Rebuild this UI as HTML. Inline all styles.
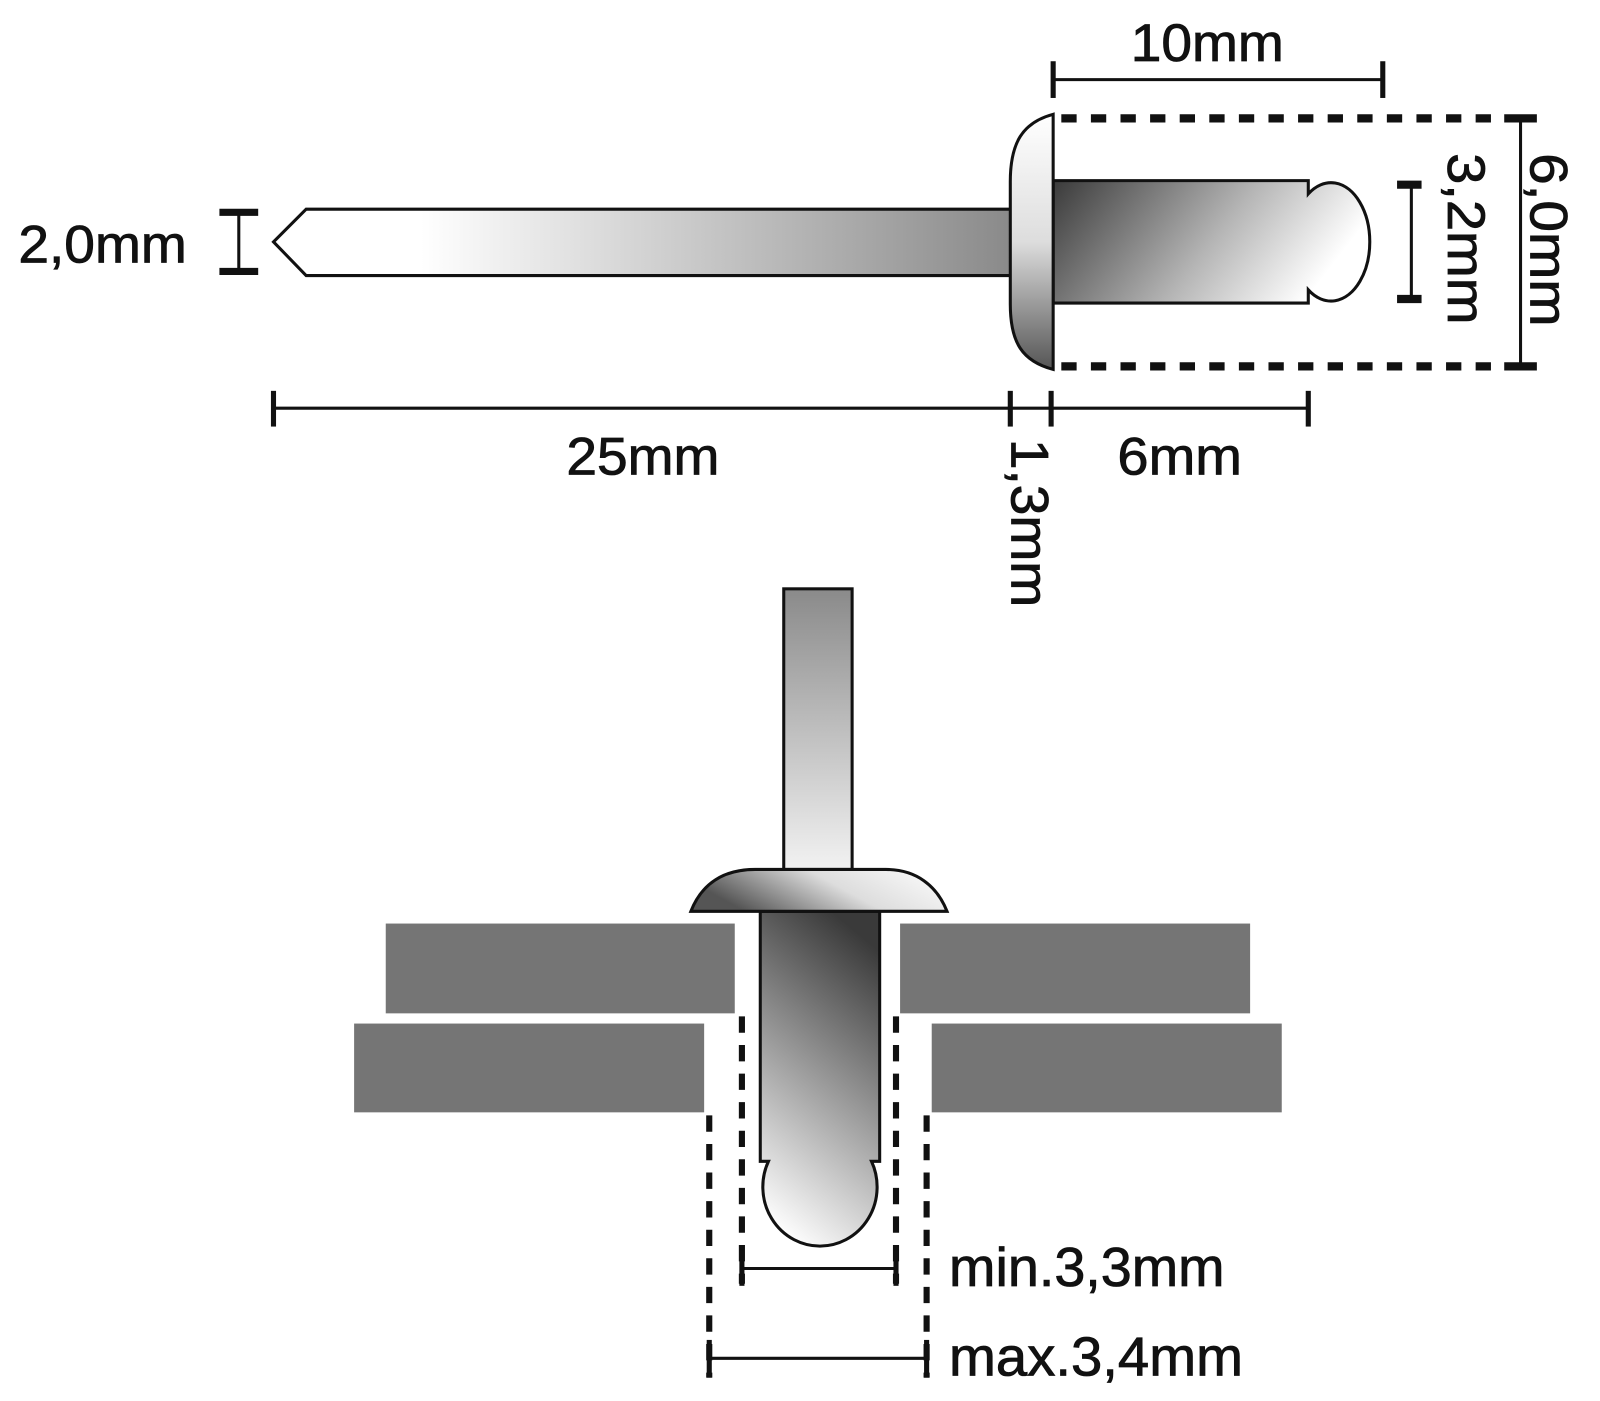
<!DOCTYPE html>
<html><head><meta charset="utf-8"><style>
html,body{margin:0;padding:0;background:#fff;width:1600px;height:1401px;overflow:hidden}
svg{display:block}
text{font-family:"Liberation Sans",sans-serif;fill:#111;stroke:#111;stroke-width:0.8}
</style></head><body>
<svg width="1600" height="1401" viewBox="0 0 1600 1401" xmlns="http://www.w3.org/2000/svg">
<defs>
<linearGradient id="pin" x1="0" x2="1" y1="0" y2="0">
<stop offset="0" stop-color="#fff"/><stop offset="0.2" stop-color="#fff"/><stop offset="1" stop-color="#8a8a8a"/></linearGradient>
<linearGradient id="head" x1="0" x2="0" y1="0" y2="1">
<stop offset="0" stop-color="#fff"/><stop offset="0.5" stop-color="#ddd"/><stop offset="1" stop-color="#555"/></linearGradient>
<linearGradient id="body" x1="0" x2="1" y1="0" y2="0.3">
<stop offset="0" stop-color="#3a3a3a"/><stop offset="0.6" stop-color="#b5b5b5"/><stop offset="1" stop-color="#fff"/></linearGradient>
<linearGradient id="stem" x1="0" x2="0" y1="0" y2="1">
<stop offset="0" stop-color="#8a8a8a"/><stop offset="1" stop-color="#f2f2f2"/></linearGradient>
<linearGradient id="head2" x1="0" x2="1" y1="0.3" y2="0">
<stop offset="0" stop-color="#555"/><stop offset="0.5" stop-color="#ddd"/><stop offset="1" stop-color="#fff"/></linearGradient>
<linearGradient id="body2" x1="0.6" x2="0.3" y1="0" y2="1">
<stop offset="0" stop-color="#3a3a3a"/><stop offset="0.6" stop-color="#b0b0b0"/><stop offset="1" stop-color="#fff"/></linearGradient>
</defs>
<g transform="scale(1.0205)">
<g stroke="#111" stroke-width="3" stroke-linejoin="miter">
<path d="M990,205 L300,205 L268,237 L300,270 L990,270" fill="url(#pin)"/>
<path d="M1032,177 L1282,177 L1282,190 A38,58 0 1 1 1282,284 L1282,297 L1032,297 Z" fill="url(#body)"/>
<path d="M1032,112 C1002,120 990,140 990,178 L990,298 C990,336 1002,354 1032,362 Z" fill="url(#head)"/>
</g>
<g stroke="#111" stroke-width="8" stroke-dasharray="15,14" fill="none">
<line x1="1040" y1="116" x2="1470" y2="116"/>
<line x1="1040" y1="359" x2="1470" y2="359"/>
</g>
<g stroke="#111" fill="none">
<line x1="1490" y1="116" x2="1490" y2="359" stroke-width="3"/>
<line x1="1474" y1="116" x2="1506" y2="116" stroke-width="8"/>
<line x1="1474" y1="359" x2="1506" y2="359" stroke-width="8"/>
<line x1="1383" y1="181" x2="1383" y2="293" stroke-width="3"/>
<line x1="1369" y1="181" x2="1393" y2="181" stroke-width="8"/>
<line x1="1369" y1="293" x2="1393" y2="293" stroke-width="8"/>
<line x1="1032" y1="78" x2="1355" y2="78" stroke-width="3"/>
<line x1="1032" y1="60" x2="1032" y2="96" stroke-width="5"/>
<line x1="1355" y1="60" x2="1355" y2="96" stroke-width="5"/>
<line x1="234" y1="208" x2="234" y2="266" stroke-width="3"/>
<line x1="215" y1="208" x2="253" y2="208" stroke-width="7"/>
<line x1="215" y1="266" x2="253" y2="266" stroke-width="7"/>
<line x1="268" y1="400" x2="1282" y2="400" stroke-width="3"/>
<line x1="268" y1="383" x2="268" y2="418" stroke-width="5"/>
<line x1="990" y1="383" x2="990" y2="418" stroke-width="5"/>
<line x1="1030" y1="383" x2="1030" y2="418" stroke-width="5"/>
<line x1="1282" y1="383" x2="1282" y2="418" stroke-width="5"/>
</g>
<g font-size="52">
<text x="1108" y="60" textLength="150" lengthAdjust="spacingAndGlyphs">10mm</text>
<text x="18" y="257" textLength="165" lengthAdjust="spacingAndGlyphs">2,0mm</text>
<text x="555" y="465" textLength="150" lengthAdjust="spacingAndGlyphs">25mm</text>
<text x="1095" y="465" textLength="122" lengthAdjust="spacingAndGlyphs">6mm</text>
<text transform="translate(1500,150) rotate(90)" textLength="170" lengthAdjust="spacingAndGlyphs">6,0mm</text>
<text transform="translate(1419,150) rotate(90)" textLength="168" lengthAdjust="spacingAndGlyphs">3,2mm</text>
<text transform="translate(991,430) rotate(90)" textLength="165" lengthAdjust="spacingAndGlyphs">1,3mm</text>
</g>
<g fill="#757575">
<rect x="378" y="905" width="342" height="88"/>
<rect x="882" y="905" width="343" height="88"/>
<rect x="347" y="1003" width="343" height="87"/>
<rect x="913" y="1003" width="343" height="87"/>
</g>
<g stroke="#111" stroke-width="3">
<rect x="768" y="577" width="67" height="275" fill="url(#stem)"/>
<path d="M745,893 L862,893 L862,1138 L854,1138 A56,58 0 1 1 753,1138 L745,1138 Z" fill="url(#body2)"/>
<path d="M677,893 C688,865 710,852 740,852 L868,852 C898,852 918,868 928,893 Z" fill="url(#head2)"/>
</g>
<g stroke="#111" stroke-width="6" stroke-dasharray="16,12" fill="none">
<line x1="727" y1="996" x2="727" y2="1258"/>
<line x1="878" y1="996" x2="878" y2="1258"/>
<line x1="695" y1="1093" x2="695" y2="1350"/>
<line x1="908" y1="1093" x2="908" y2="1350"/>
</g>
<g stroke="#111" fill="none">
<line x1="727" y1="1243" x2="878" y2="1243" stroke-width="3"/>
<line x1="727" y1="1225" x2="727" y2="1260" stroke-width="5"/>
<line x1="878" y1="1225" x2="878" y2="1260" stroke-width="5"/>
<line x1="695" y1="1331" x2="908" y2="1331" stroke-width="3"/>
<line x1="695" y1="1313" x2="695" y2="1350" stroke-width="5"/>
<line x1="908" y1="1313" x2="908" y2="1350" stroke-width="5"/>
</g>
<g font-size="54">
<text x="930" y="1260" textLength="270" lengthAdjust="spacingAndGlyphs">min.3,3mm</text>
<text x="930" y="1348" textLength="288" lengthAdjust="spacingAndGlyphs">max.3,4mm</text>
</g>
</g>
</svg>
</body></html>
